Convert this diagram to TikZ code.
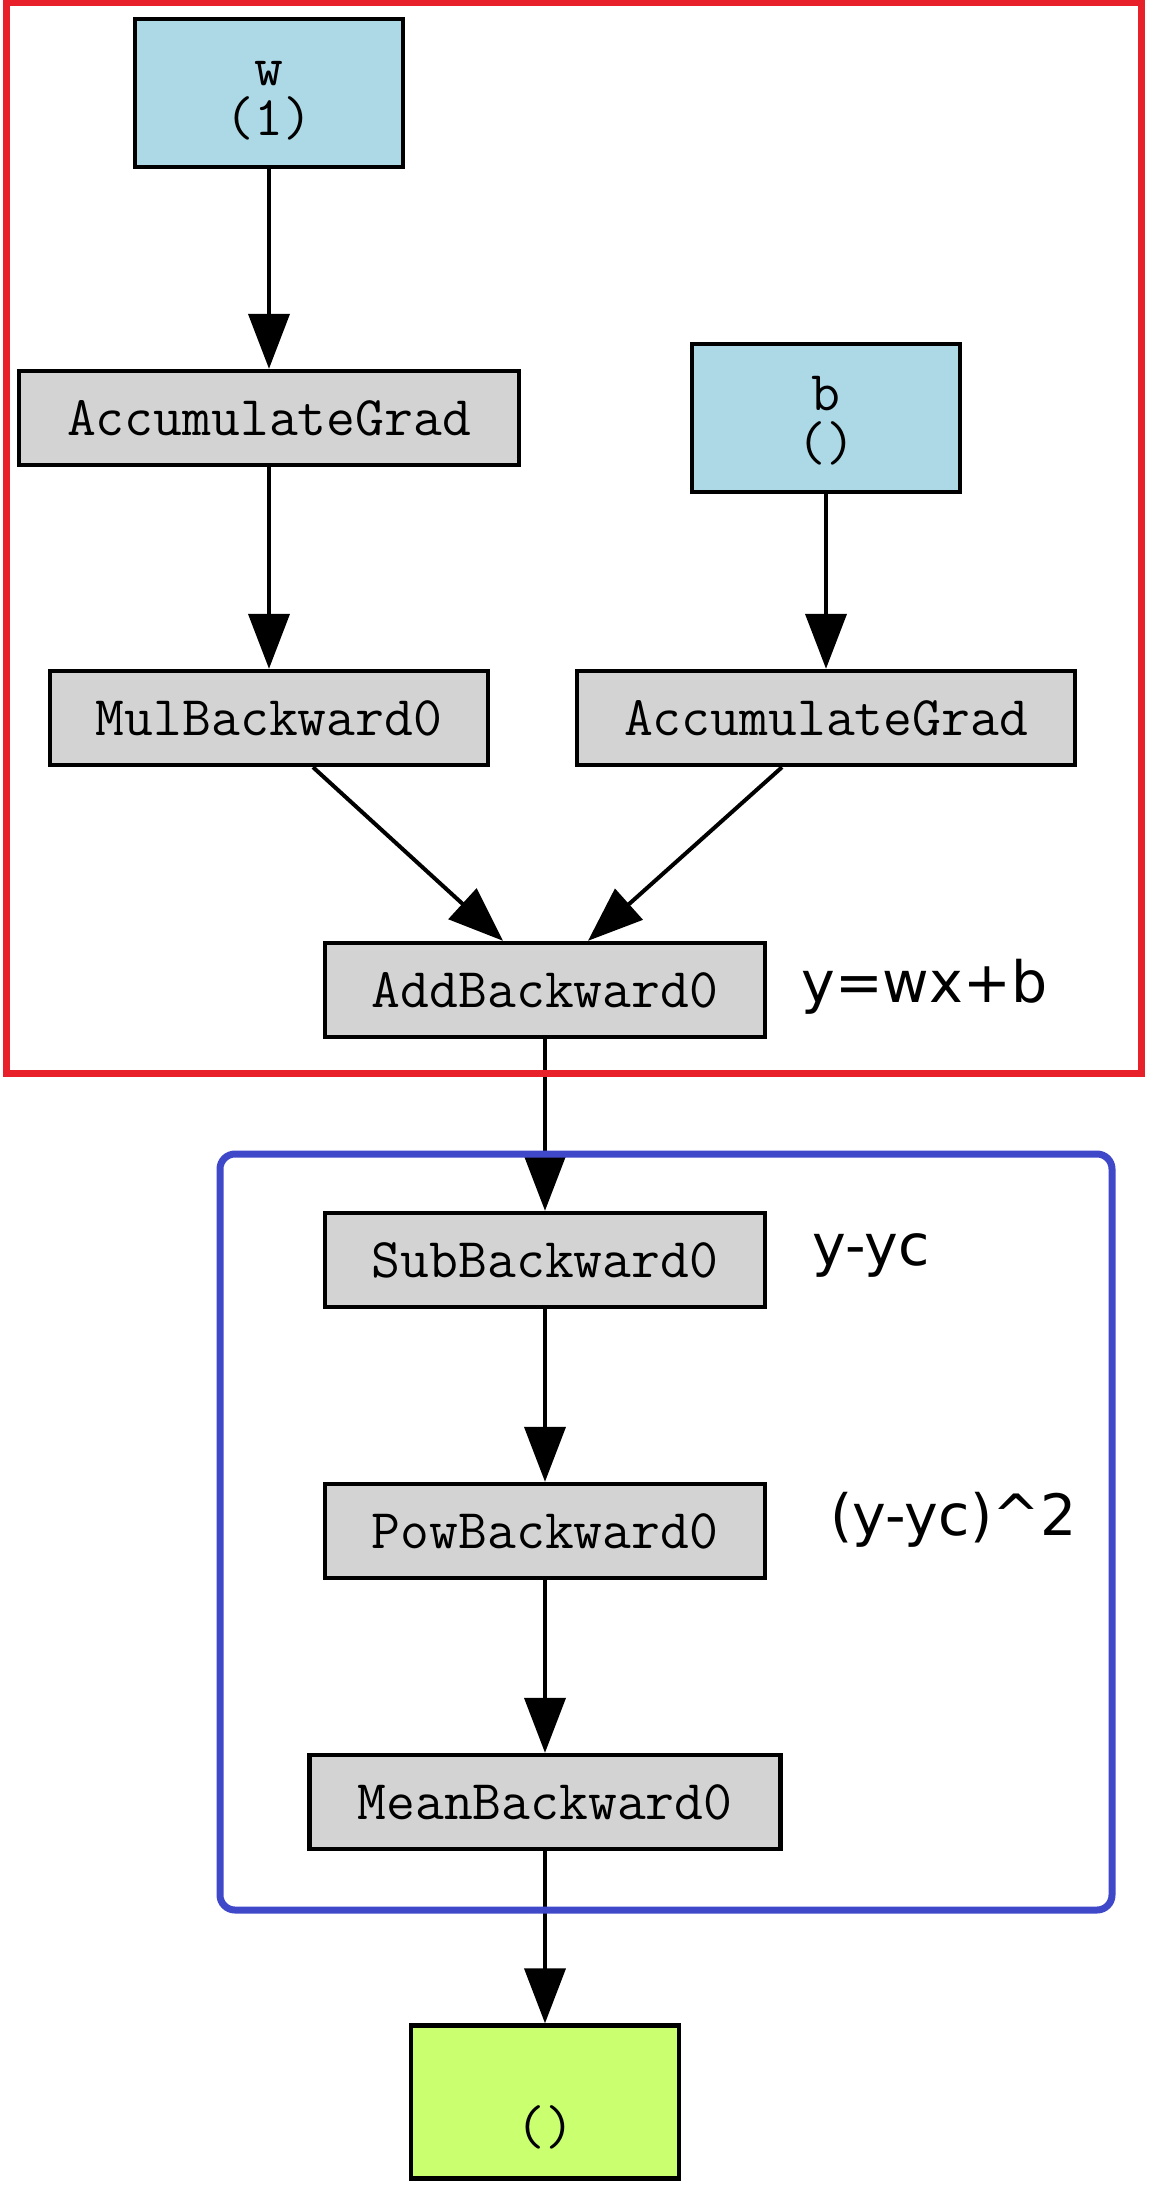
\documentclass[tikz,border=0pt]{standalone}
\usepackage{fontspec}
\newfontfamily\gvsans{DejaVu Sans}
\usetikzlibrary{arrows.meta,calc}
\definecolor{gvblue}{HTML}{ADD8E6}
\definecolor{gvgray}{HTML}{D3D3D3}
\definecolor{gvgreen}{HTML}{CAFF70}
\definecolor{framered}{HTML}{E8202A}
\definecolor{frameblue}{HTML}{3F48C8}
\begin{document}
\begin{tikzpicture}[x=0.5pt,y=-0.5pt,
  box/.style={draw=black, line width=2.2pt, inner sep=0pt, font=\ttfamily\fontsize{28pt}{25pt}\selectfont, align=center, minimum height=47pt},
  opbox/.style={box, fill=gvgray},
  varbox/.style={box, fill=gvblue, minimum width=134pt, minimum height=74pt},
  outbox/.style={box, fill=gvgreen, minimum width=134pt, minimum height=76.5pt},
  edge/.style={line width=2pt, -{Triangle[length=27.5pt,width=20.5pt]}},
  note/.style={font=\gvsans\fontsize{28.5pt}{30pt}\selectfont, anchor=base west, inner sep=0pt},
  frame/.style={line width=3.5pt}
]
\useasboundingbox (0,0) rectangle (1156,2200);
% nodes
\node[varbox] (w) at (269,93) {\rule{0pt}{24.5pt}w\\\strut(1)};
\node[opbox, minimum width=250pt] (ag1) at (269,418) {AccumulateGrad};
\node[varbox] (b) at (826,418) {\rule{0pt}{24.5pt}b\\\strut()};
\node[opbox, minimum width=219pt] (mul) at (269,718) {MulBackward0};
\node[opbox, minimum width=249pt] (ag2) at (826,718) {AccumulateGrad};
\node[opbox, minimum width=220pt] (add) at (545,990) {AddBackward0};
\node[opbox, minimum width=220pt] (sub) at (545,1260) {SubBackward0};
\node[opbox, minimum width=220pt] (pow) at (545,1531) {PowBackward0};
\node[opbox, minimum width=235.5pt] (mean) at (545,1802) {MeanBackward0};
\node[outbox] (out) at (545,2102) {\strut\\[5pt]\strut()};
% edges
\draw[edge] (w.south) -- (ag1.north);
\draw[edge] (ag1.south) -- (mul.north);
\draw[edge] (b.south) -- (ag2.north);
\draw[edge] ($(mul.south)+(44,0)$) -- ($(add.north)+(-42,0)$);
\draw[edge] ($(ag2.south)+(-44,0)$) -- ($(add.north)+(43,0)$);
\draw[edge] (add.south) -- (sub.north);
\draw[edge] (sub.south) -- (pow.north);
\draw[edge] (pow.south) -- (mean.north);
\draw[edge] (mean.south) -- (out.north);
% notes
\node[note] (l1) at (801,1002) {y=wx+b};
\node[note] (l2) at (812,1265) {y-yc};
\node[note] (l3) at (830,1535) {(y-yc)\textasciicircum 2};
% frames
\draw[frame, framered] (6,2) rectangle (1141,1073);
\draw[frame, frameblue, rounded corners=7.5pt] (220,1154) rectangle (1112,1910);
\end{tikzpicture}
\end{document}
